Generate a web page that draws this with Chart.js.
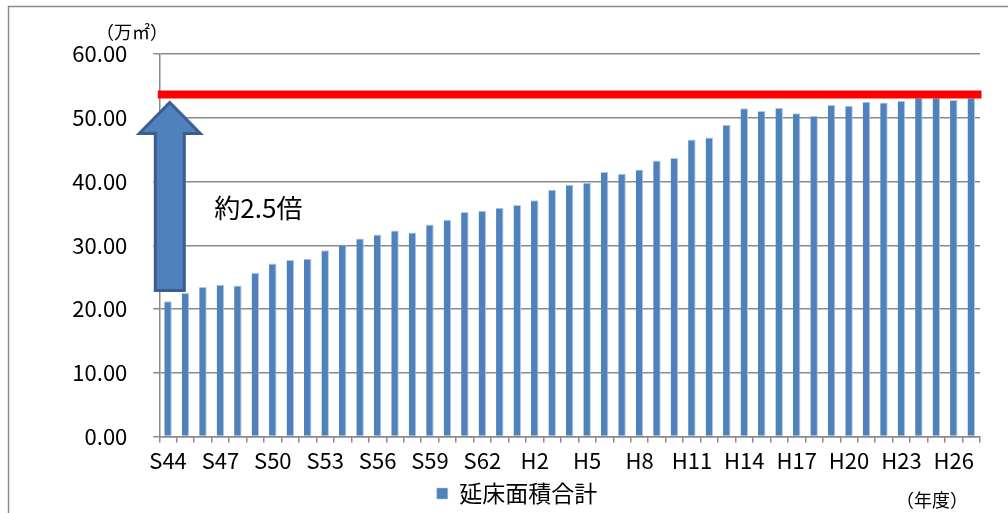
<!DOCTYPE html>
<html lang="ja">
<head>
<meta charset="utf-8">
<title>延床面積合計</title>
<script src="https://cdn.jsdelivr.net/npm/chart.js@4.4.1/dist/chart.umd.min.js"></script>
<style>
  html, body { margin: 0; padding: 0; background: #ffffff; }
  #wrap { width: 1008px; height: 513px; position: relative; }
</style>
</head>
<body>
<div id="wrap"><canvas id="c" width="1008" height="513"></canvas></div>
<script>
// Fiscal years (Showa 44 – Heisei 27)
const years = [
  'S44','S45','S46','S47','S48','S49','S50','S51','S52','S53',
  'S54','S55','S56','S57','S58','S59','S60','S61','S62','S63',
  'H1','H2','H3','H4','H5','H6','H7','H8','H9','H10',
  'H11','H12','H13','H14','H15','H16','H17','H18','H19','H20',
  'H21','H22','H23','H24','H25','H26','H27'
];

// Total floor area (万㎡)
const floorArea = [
  21.2, 22.5, 23.45, 23.8, 23.7, 25.7, 27.15, 27.7, 27.9, 29.2,
  30.1, 31.05, 31.7, 32.3, 32.0, 33.25, 34.0, 35.2, 35.4, 35.9,
  36.3, 37.05, 38.7, 39.5, 39.8, 41.5, 41.2, 41.9, 43.3, 43.7,
  46.6, 46.9, 48.9, 51.5, 51.05, 51.55, 50.7, 50.3, 52.0, 51.9,
  52.5, 52.4, 52.65, 53.1, 53.1, 52.8, 53.1
];

// Value axis ticks
const yTickValues = [0, 10, 20, 30, 40, 50, 60];
// Every third year is labelled on the category axis
const xLabelStep = 3;

// Current level line and the growth arrow
const referenceLevel = 53.65;
const arrowFrom = 22.9;
const arrowTo = 52.4;
const ratioText = '約2.5倍';
const unitText = '（万㎡）';
const yearUnitText = '（年度）';
const seriesName = '延床面積合計';

const FONT = "'Noto Sans CJK JP', 'Noto Sans', sans-serif";

const decorations = {
  id: 'decorations',
  beforeDraw(chart) {
    const ctx = chart.ctx;
    ctx.save();
    ctx.strokeStyle = '#8a8a8a';
    ctx.lineWidth = 1.5;
    ctx.beginPath();
    ctx.moveTo(8.5, 513);
    ctx.lineTo(8.5, 6.5);
    ctx.lineTo(1008, 6.5);
    ctx.stroke();
    ctx.restore();
  },
  afterDatasetsDraw(chart) {
    const ctx = chart.ctx;
    const y = chart.scales.y;
    const area = chart.chartArea;
    ctx.save();

    // level line
    const yRef = y.getPixelForValue(referenceLevel);
    ctx.strokeStyle = '#ff0000';
    ctx.lineWidth = 8;
    ctx.beginPath();
    ctx.moveTo(area.left - 1.5, yRef);
    ctx.lineTo(area.right + 1.5, yRef);
    ctx.stroke();

    // growth arrow
    const cx = area.left + 10.5;
    const yTip = y.getPixelForValue(arrowTo);
    const yBase = y.getPixelForValue(arrowFrom);
    const headH = 31, headHalf = 30.5, shaftHalf = 14.5;
    ctx.beginPath();
    ctx.moveTo(cx, yTip);
    ctx.lineTo(cx + headHalf, yTip + headH);
    ctx.lineTo(cx + shaftHalf, yTip + headH);
    ctx.lineTo(cx + shaftHalf, yBase);
    ctx.lineTo(cx - shaftHalf, yBase);
    ctx.lineTo(cx - shaftHalf, yTip + headH);
    ctx.lineTo(cx - headHalf, yTip + headH);
    ctx.closePath();
    ctx.fillStyle = '#4f81bd';
    ctx.fill();
    ctx.lineJoin = 'miter';
    ctx.strokeStyle = '#3a5f8c';
    ctx.lineWidth = 3;
    ctx.stroke();

    // texts
    ctx.fillStyle = '#000000';
    ctx.textBaseline = 'middle';
    ctx.textAlign = 'left';
    ctx.font = '26px ' + FONT;
    ctx.fillText(ratioText, area.left + 55, y.getPixelForValue(35.9));

    ctx.font = '18px ' + FONT;
    ctx.fillText(unitText, 96, 32);

    ctx.font = '18px ' + FONT;
    ctx.fillText(yearUnitText, 896, 500);
    ctx.restore();
  }
};

new Chart(document.getElementById('c'), {
  type: 'bar',
  data: {
    labels: years,
    datasets: [{
      label: seriesName,
      data: floorArea,
      backgroundColor: '#4f81bd',
      borderColor: '#b3c8e3',
      borderWidth: { top: 1, right: 1, left: 0, bottom: 0 },
      borderSkipped: false,
      barPercentage: 0.43,
      categoryPercentage: 1.0
    }]
  },
  options: {
    responsive: false,
    animation: false,
    events: [],
    layout: { padding: { left: 54, right: 28, top: 54, bottom: -2 } },
    plugins: {
      tooltip: { enabled: false },
      legend: {
        position: 'bottom',
        labels: {
          boxWidth: 11,
          boxHeight: 11,
          color: '#000000',
          font: { family: FONT, size: 23 }
        }
      }
    },
    scales: {
      x: {
        grid: {
          drawOnChartArea: false,
          drawTicks: true,
          tickLength: 6,
          color: '#8a8a8a',
          lineWidth: 1.5
        },
        border: { color: '#8a8a8a', width: 1.5 },
        ticks: {
          autoSkip: false,
          maxRotation: 0,
          padding: 5,
          color: '#000000',
          font: { family: FONT, size: 22 },
          callback(value, index) {
            return index % xLabelStep === 0 ? years[index] : '';
          }
        },
        afterFit(scale) { scale.height = 35.5; }
      },
      y: {
        min: 0,
        max: 60,
        afterBuildTicks(scale) {
          scale.ticks = yTickValues.map(v => ({ value: v }));
        },
        grid: {
          color: '#8a8a8a',
          lineWidth: 1.5,
          tickLength: 6
        },
        border: { color: '#8a8a8a', width: 1.5 },
        ticks: {
          padding: 26,
          color: '#000000',
          font: { family: FONT, size: 22 },
          callback(value) { return Number(value).toFixed(2); }
        },
        afterFit(scale) { scale.width = 105.3; }
      }
    }
  },
  plugins: [decorations]
});
</script>
</body>
</html>
